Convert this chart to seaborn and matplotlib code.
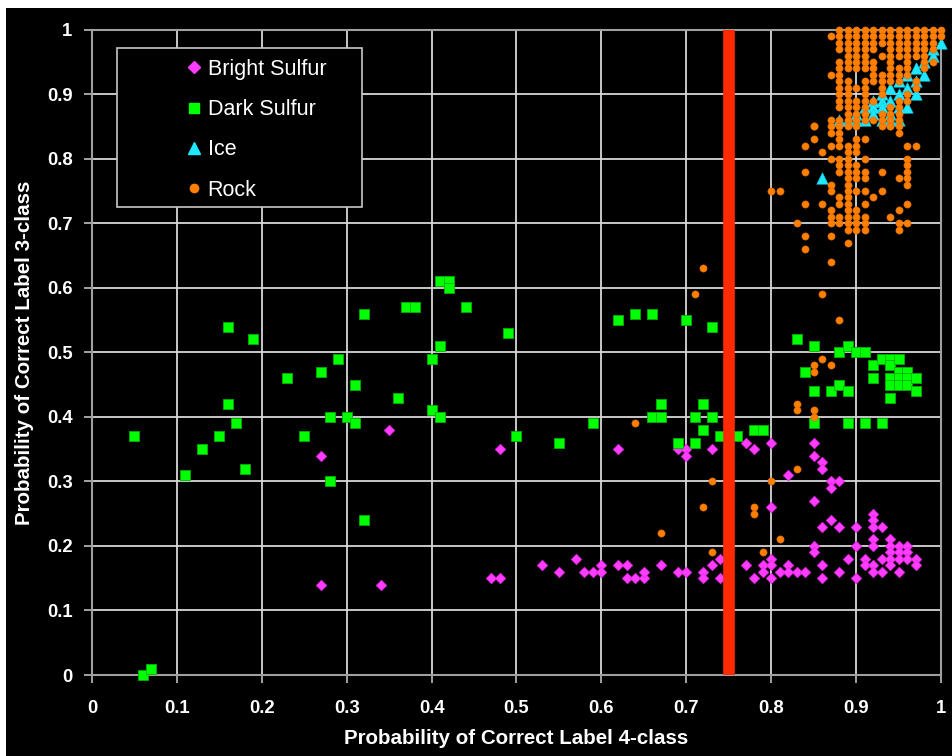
import matplotlib
matplotlib.use("Agg")
import matplotlib.pyplot as plt
import seaborn as sns
import pandas as pd
import numpy as np
from matplotlib.patches import Rectangle
from matplotlib.lines import Line2D

# ---------------- data ----------------
class_names = ["Bright Sulfur", "Dark Sulfur", "Ice", "Rock"]
tick_values = [0, 0.1, 0.2, 0.3, 0.4, 0.5, 0.6, 0.7, 0.8, 0.9, 1.0]
tick_labels = ["0", "0.1", "0.2", "0.3", "0.4", "0.5", "0.6", "0.7", "0.8", "0.9", "1"]
threshold_x = 0.75

bright_pts = [
    (0.27, 0.34), (0.27, 0.14), (0.34, 0.14), (0.35, 0.38), (0.48, 0.35), (0.47, 0.15), (0.48, 0.15),
    (0.53, 0.17), (0.55, 0.16), (0.57, 0.18), (0.58, 0.16), (0.59, 0.16), (0.60, 0.17), (0.60, 0.16),
    (0.62, 0.35), (0.62, 0.17), (0.63, 0.17), (0.63, 0.15), (0.64, 0.15), (0.65, 0.15), (0.65, 0.16),
    (0.67, 0.17), (0.69, 0.16), (0.70, 0.16), (0.69, 0.35), (0.70, 0.35), (0.70, 0.34), (0.73, 0.35),
    (0.72, 0.16), (0.72, 0.15), (0.73, 0.17), (0.74, 0.18), (0.74, 0.15),
    (0.77, 0.36), (0.78, 0.35), (0.80, 0.36), (0.85, 0.36), (0.85, 0.34), (0.86, 0.33), (0.86, 0.32),
    (0.82, 0.31), (0.87, 0.30), (0.88, 0.30), (0.87, 0.29), (0.85, 0.27), (0.80, 0.26), (0.92, 0.25),
    (0.92, 0.24), (0.87, 0.24), (0.86, 0.23), (0.88, 0.23), (0.90, 0.23), (0.92, 0.23), (0.93, 0.23),
    (0.92, 0.21), (0.94, 0.21), (0.85, 0.20), (0.90, 0.20), (0.92, 0.20), (0.94, 0.20), (0.95, 0.20),
    (0.96, 0.20), (0.85, 0.19), (0.94, 0.19), (0.95, 0.19), (0.96, 0.19), (0.89, 0.18), (0.91, 0.18),
    (0.93, 0.18), (0.94, 0.18), (0.95, 0.18), (0.96, 0.18), (0.97, 0.18), (0.80, 0.18), (0.77, 0.17),
    (0.79, 0.17), (0.80, 0.17), (0.82, 0.17), (0.86, 0.17), (0.91, 0.17), (0.92, 0.17), (0.94, 0.17),
    (0.97, 0.17), (0.79, 0.16), (0.81, 0.16), (0.82, 0.16), (0.83, 0.16), (0.84, 0.16), (0.88, 0.16),
    (0.92, 0.16), (0.93, 0.16), (0.95, 0.16), (0.78, 0.15), (0.80, 0.15), (0.86, 0.15), (0.90, 0.15),
]

dark_pts = [
    (0.05, 0.37), (0.06, 0.00), (0.07, 0.01), (0.11, 0.31), (0.13, 0.35), (0.15, 0.37), (0.16, 0.54),
    (0.16, 0.42), (0.17, 0.39), (0.18, 0.32), (0.19, 0.52), (0.23, 0.46), (0.25, 0.37), (0.27, 0.47),
    (0.28, 0.40), (0.28, 0.30), (0.29, 0.49), (0.30, 0.40), (0.31, 0.45), (0.31, 0.39), (0.32, 0.56),
    (0.32, 0.24), (0.36, 0.43), (0.37, 0.57), (0.38, 0.57), (0.40, 0.49), (0.40, 0.41), (0.41, 0.40),
    (0.41, 0.51), (0.41, 0.61), (0.42, 0.61), (0.42, 0.60), (0.44, 0.57), (0.49, 0.53), (0.50, 0.37),
    (0.55, 0.36), (0.59, 0.39), (0.62, 0.55), (0.64, 0.56), (0.66, 0.56), (0.66, 0.40), (0.67, 0.40),
    (0.67, 0.42), (0.69, 0.36), (0.70, 0.55), (0.71, 0.40), (0.71, 0.36), (0.72, 0.42), (0.72, 0.38),
    (0.73, 0.54), (0.73, 0.40), (0.74, 0.37), (0.76, 0.37), (0.78, 0.38), (0.79, 0.38), (0.83, 0.52),
    (0.85, 0.51), (0.84, 0.47), (0.85, 0.44), (0.85, 0.39), (0.87, 0.44), (0.88, 0.50), (0.88, 0.45),
    (0.89, 0.51), (0.89, 0.44), (0.89, 0.39), (0.90, 0.50), (0.91, 0.50), (0.91, 0.39), (0.92, 0.48),
    (0.92, 0.46), (0.93, 0.49), (0.93, 0.39), (0.94, 0.49), (0.94, 0.48), (0.94, 0.46), (0.94, 0.45),
    (0.94, 0.43), (0.95, 0.49), (0.95, 0.47), (0.95, 0.46), (0.95, 0.45), (0.96, 0.47), (0.96, 0.46),
    (0.96, 0.45), (0.97, 0.46), (0.97, 0.44),
]

ice_pts = [
    (1.00, 0.98), (0.99, 0.97), (0.99, 0.96), (0.98, 0.95), (0.98, 0.93), (0.97, 0.94), (0.97, 0.92),
    (0.97, 0.90), (0.96, 0.93), (0.96, 0.91), (0.96, 0.88), (0.95, 0.92), (0.95, 0.90), (0.95, 0.88),
    (0.94, 0.91), (0.94, 0.89), (0.94, 0.87), (0.93, 0.90), (0.93, 0.89), (0.93, 0.88), (0.93, 0.86),
    (0.92, 0.89), (0.92, 0.88), (0.92, 0.87), (0.91, 0.88), (0.91, 0.86), (0.90, 0.87), (0.90, 0.86),
    (0.89, 0.86), (0.88, 0.86), (0.95, 0.86), (0.94, 0.86), (0.86, 0.77),
]

rock_scatter_pts = [
    (0.64, 0.39), (0.67, 0.22), (0.71, 0.59), (0.72, 0.63), (0.72, 0.26), (0.73, 0.30), (0.73, 0.19),
    (0.78, 0.26), (0.78, 0.25), (0.79, 0.19), (0.80, 0.30), (0.81, 0.21), (0.83, 0.32), (0.83, 0.42),
    (0.83, 0.41), (0.85, 0.41), (0.85, 0.40), (0.85, 0.48), (0.85, 0.47), (0.86, 0.49), (0.87, 0.48),
    (0.88, 0.55), (0.86, 0.59), (0.87, 0.64), (0.84, 0.66), (0.89, 0.67), (0.84, 0.68), (0.87, 0.68),
    (0.83, 0.70), (0.84, 0.73), (0.86, 0.73), (0.80, 0.75), (0.81, 0.75), (0.84, 0.78), (0.84, 0.82),
    (0.85, 0.83), (0.85, 0.85), (0.86, 0.81), (0.87, 0.86), (0.87, 0.85), (0.87, 0.84), (0.87, 0.82),
    (0.87, 0.80), (0.87, 0.76), (0.87, 0.75), (0.87, 0.72), (0.87, 0.71), (0.87, 0.70), (0.92, 0.74),
    (0.93, 0.78), (0.93, 0.75), (0.95, 0.77), (0.97, 0.82), (0.95, 0.85), (0.95, 0.84), (0.93, 0.85),
    (0.94, 0.85), (0.95, 0.72), (0.94, 0.71), (0.95, 0.70), (0.95, 0.69), (0.85, 0.85),
]

rock_col_x = [0.87, 0.88, 0.89, 0.90, 0.91, 0.92, 0.93, 0.94, 0.95, 0.96, 0.97, 0.98, 0.99, 1.00]
rock_col_y = [
    [0.99, 0.93],
    [1.00, 0.99, 0.98, 0.97, 0.95, 0.94, 0.93, 0.92, 0.91, 0.90, 0.89, 0.88, 0.86, 0.85, 0.84, 0.83,
     0.82, 0.80, 0.79, 0.78, 0.74, 0.73, 0.71, 0.70],
    [1.00, 0.99, 0.98, 0.97, 0.96, 0.95, 0.94, 0.92, 0.91, 0.90, 0.89, 0.88, 0.87, 0.86, 0.85, 0.82,
     0.81, 0.80, 0.79, 0.78, 0.77, 0.76, 0.75, 0.74, 0.73, 0.72, 0.71, 0.70, 0.69],
    [1.00, 0.99, 0.98, 0.97, 0.96, 0.95, 0.94, 0.91, 0.89, 0.88, 0.87, 0.86, 0.85, 0.83, 0.82, 0.81,
     0.79, 0.78, 0.77, 0.75, 0.72, 0.71, 0.70, 0.69],
    [1.00, 0.99, 0.98, 0.97, 0.96, 0.95, 0.94, 0.92, 0.91, 0.90, 0.89, 0.88, 0.87, 0.86, 0.83, 0.80,
     0.78, 0.77, 0.75, 0.73, 0.71, 0.70, 0.69],
    [1.00, 0.99, 0.98, 0.97, 0.95, 0.94, 0.93, 0.92, 0.89, 0.86],
    [1.00, 0.99, 0.98, 0.96, 0.93, 0.92, 0.91, 0.90, 0.87, 0.86],
    [1.00, 0.99, 0.98, 0.97, 0.96, 0.95, 0.94, 0.93, 0.92, 0.88, 0.87, 0.86, 0.85],
    [1.00, 0.99, 0.98, 0.97, 0.96, 0.94, 0.93, 0.92, 0.89, 0.88, 0.87, 0.86],
    [1.00, 0.99, 0.98, 0.97, 0.96, 0.95, 0.94, 0.93, 0.90, 0.89, 0.82, 0.80, 0.79, 0.78, 0.77, 0.76,
     0.73, 0.70],
    [1.00, 0.99, 0.98, 0.97, 0.96, 0.92, 0.91],
    [1.00, 0.99, 0.98, 0.97, 0.96, 0.95, 0.94],
    [1.00, 0.99, 0.98, 0.97, 0.95],
    [1.00, 0.99],
]

# ---------------- build tables ----------------
rock_pts = list(rock_scatter_pts)
for cx, ys in zip(rock_col_x, rock_col_y):
    rock_pts += [(cx, cy) for cy in ys]

frames = []
for name, pts in zip(class_names, [bright_pts, dark_pts, ice_pts, rock_pts]):
    d = pd.DataFrame(pts, columns=["p4", "p3"])
    d["cls"] = name
    frames.append(d)
df = pd.concat(frames, ignore_index=True)

styles = {
    "Bright Sulfur": dict(marker="D", color="#ff3cff", s=30, edgecolor="#e020e0", linewidth=0.4),
    "Dark Sulfur": dict(marker="s", color="#00ff00", s=52, edgecolor="#00b000", linewidth=0.6),
    "Ice": dict(marker="^", color="#1ee8ff", s=68, edgecolor="#10c8e0", linewidth=0.4),
    "Rock": dict(marker="o", color="#ff7f00", s=27, edgecolor="#e06a00", linewidth=0.4),
}

# ---------------- figure ----------------
sns.set_theme(style="darkgrid")
plt.rcParams["font.family"] = ["Liberation Sans", "DejaVu Sans"]

fig = plt.figure(figsize=(9.53, 7.56), dpi=100)
fig.patch.set_facecolor("white")
fig.patches.append(Rectangle((6 / 953, 0), 1, 748 / 756, transform=fig.transFigure,
                             facecolor="black", edgecolor="none", zorder=-10))

ax = fig.add_axes([92 / 953, 81 / 756, 849 / 953, 645.3 / 756])
ax.set_facecolor("black")

for name in class_names:
    sub = df[df["cls"] == name]
    sns.scatterplot(data=sub, x="p4", y="p3", ax=ax, legend=False, zorder=3,
                    clip_on=False, **styles[name])

ax.axvline(threshold_x, color="#ff2a00", lw=8.4, zorder=4)

ax.set_xlim(0, 1)
ax.set_ylim(0, 1)
ax.set_xticks(tick_values)
ax.set_yticks(tick_values)
ax.set_xticklabels(tick_labels)
ax.set_yticklabels(tick_labels)
ax.grid(True, color="#d8d8d8", lw=1.3)
ax.set_axisbelow(True)
for sp in ax.spines.values():
    sp.set_visible(True)
    sp.set_color("#a0a0a0")
    sp.set_linewidth(1.5)

ax.tick_params(axis="both", which="major", bottom=True, left=True, length=6, width=1.3,
               color="#b0b0b0", labelcolor="white", labelsize=13.3, direction="out")
ax.tick_params(axis="x", pad=12)
ax.tick_params(axis="y", pad=8)
for lab in ax.get_xticklabels() + ax.get_yticklabels():
    lab.set_fontweight("bold")

ax.set_xlabel("Probability of Correct Label 4-class", fontsize=14.8, fontweight="bold",
              color="white", labelpad=9)
ax.set_ylabel("Probability of Correct Label 3-class", fontsize=14.8, fontweight="bold",
              color="white", labelpad=9)

# legend box
ax.add_patch(Rectangle((25 / 849, 468 / 645), 245 / 849, 159 / 645, transform=ax.transAxes,
                       facecolor="black", edgecolor="#c8c8c8", lw=1.2, zorder=5))
handles = [
    Line2D([], [], linestyle="none", marker="D", markersize=6, color="#ff3cff"),
    Line2D([], [], linestyle="none", marker="s", markersize=7.5, color="#00ff00"),
    Line2D([], [], linestyle="none", marker="^", markersize=8.5, color="#1ee8ff"),
    Line2D([], [], linestyle="none", marker="o", markersize=6, color="#ff7f00"),
]
leg = ax.legend(handles, class_names, loc="center left", bbox_to_anchor=(80 / 849, 545 / 645),
                frameon=False, fontsize=15.5, handlelength=1.0, handletextpad=0.15, borderpad=0,
                labelspacing=0.9, labelcolor="white")
leg.set_zorder(6)

fig.savefig("out.png", dpi=100, facecolor=fig.get_facecolor())
